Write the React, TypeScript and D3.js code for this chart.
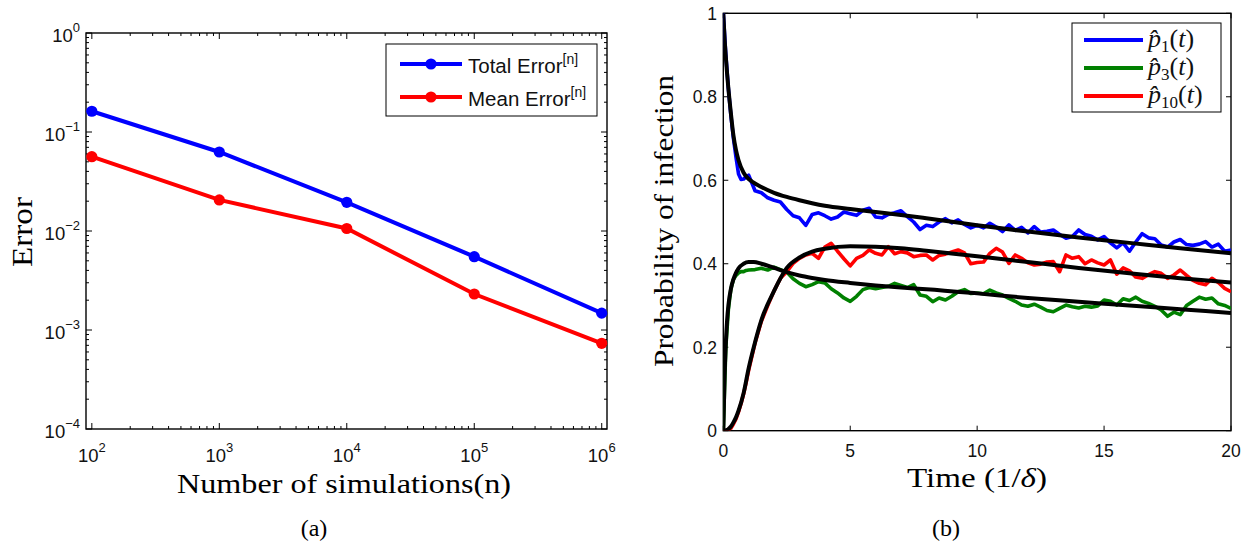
import React, { useEffect, useRef } from "react";
import * as d3 from "d3";

const W = 1252;
const H = 544;

// (a) error against number of simulations
const simCounts = [1e2, 1e3, 1e4, 1e5, 1e6];
const totalError = [0.162, 0.0628, 0.0195, 0.0055, 0.00148];
const meanError = [0.0563, 0.0206, 0.0106, 0.00231, 0.000734];
const simTicks = [1e2, 1e3, 1e4, 1e5, 1e6];
const errorTicks = [1e-4, 1e-3, 1e-2, 1e-1, 1];

// (b) probability of infection, fitted curves
const tFit = [0, 0.05, 0.1, 0.15, 0.2, 0.3, 0.4, 0.5, 0.6, 0.8, 1.0, 1.2, 1.5, 2, 2.5, 3, 3.5, 4, 5, 6, 7, 8, 10, 12, 14, 16, 18, 20];
const p1Fit = [1.0, 0.94, 0.895, 0.855, 0.82, 0.76, 0.707, 0.672, 0.648, 0.618, 0.603, 0.594, 0.584, 0.570, 0.560, 0.552, 0.545, 0.539, 0.531, 0.524, 0.517, 0.509, 0.492, 0.477, 0.463, 0.45, 0.437, 0.425];
const p3Fit = [0, 0.13, 0.21, 0.265, 0.30, 0.34, 0.363, 0.378, 0.389, 0.400, 0.404, 0.404, 0.400, 0.390, 0.380, 0.372, 0.366, 0.361, 0.354, 0.348, 0.343, 0.339, 0.329, 0.318, 0.309, 0.300, 0.291, 0.282];
const p10Fit = [0, 0, 0.001, 0.002, 0.004, 0.01, 0.02, 0.032, 0.048, 0.09, 0.15, 0.20, 0.265, 0.335, 0.39, 0.415, 0.429, 0.436, 0.442, 0.441, 0.437, 0.431, 0.418, 0.404, 0.39, 0.377, 0.365, 0.355];

// (b) simulated estimates
const tSim = [0, 0.1, 0.2, 0.3, 0.4, 0.5, 0.6, 0.7, 0.8, 0.9, 1,
  1.25, 1.5, 1.75, 2, 2.25, 2.5, 2.75, 3, 3.25, 3.5, 3.75, 4, 4.25, 4.5, 4.75, 5,
  5.25, 5.5, 5.75, 6, 6.25, 6.5, 6.75, 7, 7.25, 7.5, 7.75, 8, 8.25, 8.5, 8.75, 9,
  9.25, 9.5, 9.75, 10, 10.25, 10.5, 10.75, 11, 11.25, 11.5, 11.75, 12, 12.25, 12.5, 12.75, 13,
  13.25, 13.5, 13.75, 14, 14.25, 14.5, 14.75, 15, 15.25, 15.5, 15.75, 16, 16.25, 16.5, 16.75, 17,
  17.25, 17.5, 17.75, 18, 18.25, 18.5, 18.75, 19, 19.25, 19.5, 19.75, 20];
const p1Sim = [1.0, 0.90, 0.82, 0.755, 0.70, 0.655, 0.615, 0.602, 0.603, 0.608, 0.612,
  0.575, 0.570, 0.558, 0.552, 0.548, 0.530, 0.515, 0.510, 0.492, 0.518, 0.522, 0.515,
  0.507, 0.512, 0.524, 0.520, 0.516, 0.528, 0.533, 0.512, 0.510, 0.518, 0.522, 0.527,
  0.513, 0.500, 0.482, 0.492, 0.489, 0.500, 0.508, 0.498, 0.505, 0.494, 0.486, 0.492,
  0.486, 0.497, 0.488, 0.477, 0.493, 0.480, 0.487, 0.474, 0.489, 0.476, 0.478, 0.481,
  0.470, 0.461, 0.465, 0.481, 0.470, 0.466, 0.457, 0.465, 0.450, 0.438, 0.450, 0.430,
  0.452, 0.472, 0.462, 0.460, 0.445, 0.440, 0.452, 0.458, 0.446, 0.444, 0.447, 0.453,
  0.440, 0.447, 0.430, 0.433];
const p3Sim = [0, 0.20, 0.29, 0.34, 0.362, 0.372, 0.378, 0.381, 0.381, 0.384, 0.385,
  0.386, 0.389, 0.385, 0.392, 0.386, 0.380, 0.364, 0.353, 0.345, 0.350, 0.357, 0.354,
  0.340, 0.330, 0.318, 0.310, 0.322, 0.338, 0.343, 0.340, 0.343, 0.346, 0.353, 0.348,
  0.343, 0.350, 0.325, 0.322, 0.309, 0.318, 0.313, 0.322, 0.333, 0.338, 0.329, 0.330,
  0.328, 0.337, 0.330, 0.325, 0.317, 0.310, 0.301, 0.298, 0.303, 0.296, 0.288, 0.285,
  0.293, 0.301, 0.297, 0.294, 0.298, 0.296, 0.299, 0.313, 0.310, 0.301, 0.316, 0.312,
  0.320, 0.310, 0.305, 0.298, 0.289, 0.274, 0.284, 0.278, 0.300, 0.310, 0.320, 0.315,
  0.318, 0.304, 0.300, 0.293];
const p10Sim = [0, 0, 0.003, 0.006, 0.016, 0.028, 0.045, 0.065, 0.088, 0.115, 0.145,
  0.21, 0.262, 0.300, 0.335, 0.365, 0.381, 0.401, 0.413, 0.421, 0.425, 0.413, 0.440,
  0.449, 0.430, 0.412, 0.395, 0.413, 0.420, 0.433, 0.425, 0.421, 0.441, 0.424, 0.429,
  0.426, 0.417, 0.420, 0.421, 0.409, 0.420, 0.423, 0.428, 0.433, 0.426, 0.400, 0.403,
  0.404, 0.425, 0.437, 0.428, 0.401, 0.421, 0.413, 0.402, 0.397, 0.399, 0.404, 0.405,
  0.381, 0.421, 0.413, 0.417, 0.400, 0.409, 0.402, 0.397, 0.409, 0.375, 0.390, 0.383,
  0.368, 0.365, 0.374, 0.381, 0.377, 0.365, 0.373, 0.385, 0.372, 0.360, 0.353, 0.350,
  0.365, 0.355, 0.341, 0.333];
const timeTicks = [0, 5, 10, 15, 20];
const probTicks = [0, 0.2, 0.4, 0.6, 0.8, 1];

const SANS = "'Liberation Sans', Arial, Helvetica, sans-serif";
const SERIF = "'Liberation Serif', 'Times New Roman', serif";

// inside ticks on all four sides, MATLAB style
function frameTicks(g, x, y, xt, yt, len) {
  const [xl, xr] = x.range();
  const [yb, yt0] = y.range();
  xt.forEach((v) => {
    const px = x(v);
    g.append("line").attr("x1", px).attr("x2", px).attr("y1", yb).attr("y2", yb - len);
    g.append("line").attr("x1", px).attr("x2", px).attr("y1", yt0).attr("y2", yt0 + len);
  });
  yt.forEach((v) => {
    const py = y(v);
    g.append("line").attr("x1", xl).attr("x2", xl + len).attr("y1", py).attr("y2", py);
    g.append("line").attr("x1", xr).attr("x2", xr - len).attr("y1", py).attr("y2", py);
  });
  g.selectAll("line").attr("stroke", "#000").attr("stroke-width", 1);
}

function logMinors(lo, hi, dMin, dMax) {
  const out = [];
  for (let d = dMin; d <= dMax; d++) {
    for (let k = 2; k <= 9; k++) {
      const v = k * Math.pow(10, d);
      if (v > lo * 1.01 && v < hi) out.push(v);
    }
  }
  return out;
}

function drawErrorPanel(svg) {
  const x = d3.scaleLog().domain([90, 1.1e6]).range([86, 607]);
  const y = d3.scaleLog().domain([1e-4, 1]).range([429, 33]);
  const g = svg.append("g");

  g.append("rect").attr("x", 86).attr("y", 33).attr("width", 521).attr("height", 396)
    .attr("fill", "#fff").attr("stroke", "#000").attr("stroke-width", 1.4);

  frameTicks(g.append("g"), x, y, simTicks, errorTicks, 6);
  frameTicks(g.append("g"), x, y, logMinors(90, 1.1e6, 1, 5), logMinors(1e-4, 1, -4, -1), 3);

  // tick labels
  simTicks.forEach((v) => {
    const t = g.append("text").attr("x", x(v)).attr("y", 462).attr("text-anchor", "middle")
      .attr("font-family", SANS).attr("font-size", 18.5).attr("fill", "#111");
    t.append("tspan").text("10");
    t.append("tspan").attr("dy", -10).attr("font-size", 13).text(String(Math.round(Math.log10(v))));
  });
  errorTicks.forEach((v) => {
    const t = g.append("text").attr("x", 80).attr("y", y(v) + 8.5).attr("text-anchor", "end")
      .attr("font-family", SANS).attr("font-size", 18.5).attr("fill", "#111");
    const e = Math.round(Math.log10(v));
    t.append("tspan").text("10");
    t.append("tspan").attr("dy", -10).attr("font-size", 13).text(e < 0 ? "\u2212" + (-e) : String(e));
  });

  const series = [
    { values: totalError, color: "#0000ff", name: "Total Error" },
    { values: meanError, color: "#ff0000", name: "Mean Error" },
  ];
  const lineGen = d3.line().x((d) => x(d[0])).y((d) => y(d[1]));
  series.forEach((s) => {
    const pts = simCounts.map((n, i) => [n, s.values[i]]);
    g.append("path").attr("d", lineGen(pts)).attr("fill", "none")
      .attr("stroke", s.color).attr("stroke-width", 4);
    g.selectAll(null).data(pts).join("circle")
      .attr("cx", (d) => x(d[0])).attr("cy", (d) => y(d[1])).attr("r", 5.6).attr("fill", s.color);
  });

  // legend
  const lg = g.append("g");
  lg.append("rect").attr("x", 386).attr("y", 44).attr("width", 211).attr("height", 72)
    .attr("fill", "#fff").attr("stroke", "#000").attr("stroke-width", 1);
  series.forEach((s, i) => {
    const ry = 64 + i * 33;
    lg.append("line").attr("x1", 400).attr("x2", 462).attr("y1", ry).attr("y2", ry)
      .attr("stroke", s.color).attr("stroke-width", 4);
    lg.append("circle").attr("cx", 431).attr("cy", ry).attr("r", 5.6).attr("fill", s.color);
    const t = lg.append("text").attr("x", 468).attr("y", ry + 9).attr("font-family", SANS)
      .attr("font-size", 20.5).attr("fill", "#111");
    t.append("tspan").text(s.name);
    t.append("tspan").attr("dy", -9).attr("font-size", 14).text("[n]");
  });

  // axis titles
  g.append("text").attr("x", 344).attr("y", 493).attr("text-anchor", "middle")
    .attr("font-family", SERIF).attr("font-size", 28).attr("textLength", 334)
    .attr("lengthAdjust", "spacingAndGlyphs").text("Number of simulations(n)");
  g.append("text").attr("transform", "translate(32,232) rotate(-90)").attr("text-anchor", "middle")
    .attr("font-family", SERIF).attr("font-size", 29).attr("textLength", 70)
    .attr("lengthAdjust", "spacingAndGlyphs").text("Error");
  g.append("text").attr("x", 314).attr("y", 536).attr("text-anchor", "middle")
    .attr("font-family", SERIF).attr("font-size", 24).text("(a)");
}

function drawInfectionPanel(svg) {
  const x = d3.scaleLinear().domain([0, 20]).range([723.3, 1231]);
  const y = d3.scaleLinear().domain([0, 1]).range([430.7, 13.3]);
  const g = svg.append("g");

  g.append("defs").append("clipPath").attr("id", "plotB").append("rect")
    .attr("x", 723.3).attr("y", 13.3).attr("width", 507.7).attr("height", 417.4);

  g.append("rect").attr("x", 723.3).attr("y", 13.3).attr("width", 507.7).attr("height", 417.4)
    .attr("fill", "#fff").attr("stroke", "#000").attr("stroke-width", 1.4);
  frameTicks(g.append("g"), x, y, timeTicks, probTicks, 5);

  timeTicks.forEach((v) => {
    g.append("text").attr("x", x(v)).attr("y", 457).attr("text-anchor", "middle")
      .attr("font-family", SANS).attr("font-size", 17.5).attr("fill", "#111").text(String(v));
  });
  probTicks.forEach((v) => {
    g.append("text").attr("x", 717).attr("y", y(v) + 6.5).attr("text-anchor", "end")
      .attr("font-family", SANS).attr("font-size", 17.5).attr("fill", "#111").text(String(v));
  });

  const plot = g.append("g").attr("clip-path", "url(#plotB)");
  const lineGen = d3.line().x((d) => x(d[0])).y((d) => y(d[1]));
  const fitGen = d3.line().x((d) => x(d[0])).y((d) => y(d[1])).curve(d3.curveMonotoneX);

  const sims = [
    { values: p1Sim, color: "#0000ff", sub: "1" },
    { values: p3Sim, color: "#008000", sub: "3" },
    { values: p10Sim, color: "#ff0000", sub: "10" },
  ];
  sims.forEach((s) => {
    plot.append("path").attr("d", lineGen(tSim.map((t, i) => [t, s.values[i]])))
      .attr("fill", "none").attr("stroke", s.color).attr("stroke-width", 3.6)
      .attr("stroke-linejoin", "round");
  });
  [p1Fit, p3Fit, p10Fit].forEach((vals) => {
    plot.append("path").attr("d", fitGen(tFit.map((t, i) => [t, vals[i]])))
      .attr("fill", "none").attr("stroke", "#000").attr("stroke-width", 4);
  });

  // legend
  const lg = g.append("g");
  lg.append("rect").attr("x", 1072).attr("y", 23).attr("width", 149).attr("height", 89)
    .attr("fill", "#fff").attr("stroke", "#000").attr("stroke-width", 1);
  sims.forEach((s, i) => {
    const ry = 40 + i * 28;
    lg.append("line").attr("x1", 1084).attr("x2", 1143).attr("y1", ry).attr("y2", ry)
      .attr("stroke", s.color).attr("stroke-width", 4);
    const t = lg.append("text").attr("x", 1148).attr("y", ry + 7).attr("font-family", SERIF)
      .attr("font-size", 26).attr("fill", "#111");
    t.append("tspan").attr("font-style", "italic").text("p\u0302");
    t.append("tspan").attr("dy", 5).attr("font-size", 17).text(s.sub);
    t.append("tspan").attr("dy", -5).text("(");
    t.append("tspan").attr("font-style", "italic").text("t");
    t.append("tspan").text(")");
  });

  // axis titles
  const xt = g.append("text").attr("x", 977).attr("y", 487).attr("text-anchor", "middle")
    .attr("font-family", SERIF).attr("font-size", 28).attr("textLength", 140)
    .attr("lengthAdjust", "spacingAndGlyphs");
  xt.append("tspan").text("Time (1/");
  xt.append("tspan").attr("font-style", "italic").text("\u03b4");
  xt.append("tspan").text(")");
  g.append("text").attr("transform", "translate(673,221) rotate(-90)").attr("text-anchor", "middle")
    .attr("font-family", SERIF).attr("font-size", 28).attr("textLength", 292)
    .attr("lengthAdjust", "spacingAndGlyphs").text("Probability of infection");
  g.append("text").attr("x", 946).attr("y", 536).attr("text-anchor", "middle")
    .attr("font-family", SERIF).attr("font-size", 24).text("(b)");
}

export default function App() {
  const svgRef = useRef(null);

  useEffect(() => {
    const svg = d3.select(svgRef.current);
    svg.selectAll("*").remove();
    drawErrorPanel(svg);
    drawInfectionPanel(svg);
  }, []);

  return (
    <svg ref={svgRef} width={W} height={H}
      style={{ position: "absolute", left: 0, top: 0, background: "#fff", display: "block" }} />
  );
}
